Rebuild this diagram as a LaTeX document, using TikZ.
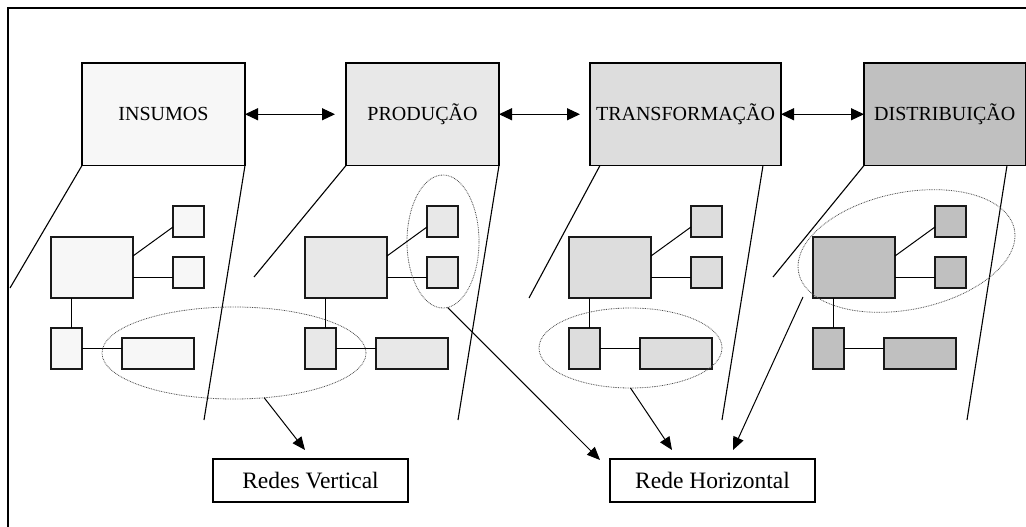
\documentclass[tikz,border=0pt]{standalone}
\usepackage{fontspec}
\setmainfont{Liberation Serif}
\usetikzlibrary{arrows.meta,calc,shapes.geometric}
\definecolor{cA}{HTML}{F7F7F7}
\definecolor{cB}{HTML}{E8E8E8}
\definecolor{cC}{HTML}{DDDDDD}
\definecolor{cD}{HTML}{C0C0C0}
\begin{document}
\begin{tikzpicture}[x=1pt,y=-1pt,
  hdr/.style={draw=black, line width=1.2pt, minimum height=102.5, inner sep=0pt, outer sep=0pt, font=\fontsize{20}{24}\selectfont},
  sub/.style={draw=black!90, line width=1.2pt, inner sep=0pt, outer sep=0pt},
  lbl/.style={draw=black, line width=1.2pt, minimum height=43, inner sep=0pt, outer sep=0pt, font=\fontsize{23.5}{28}\selectfont},
  link/.style={line width=1pt},
  fun/.style={line width=1.1pt},
  arr/.style={line width=1pt, -{Triangle[length=13pt,width=11pt]}},
  dbl/.style={line width=1.1pt, {Triangle[length=13pt,width=12pt]}-{Triangle[length=13pt,width=12pt]}},
  grp/.style={ellipse, draw=black!70, line width=0.8pt, dash pattern=on 0.8pt off 0.9pt, inner sep=0pt, outer sep=0pt}
]
\useasboundingbox (0,0) rectangle (1026,527);
% frame
\draw[line width=1.5pt] (8,527) -- (8,8) -- (1026,8);

% header boxes
\node[hdr, fill=cA, minimum width=163] (ins) at (163.5,114.25) {INSUMOS};
\node[hdr, fill=cB, minimum width=153] (pro) at (422.5,114.25) {PRODUÇÃO};
\node[hdr, fill=cC, minimum width=191] (tra) at (685.5,114.25) {TRANSFORMAÇÃO};
\node[hdr, fill=cD, minimum width=161.5] (dis) at (944.75,114.25) {DISTRIBUIÇÃO};

% double arrows
\draw[dbl, shorten >=11pt] (ins.east) -- (pro.west);
\draw[dbl, shorten >=10pt] (pro.east) -- (tra.west);
\draw[dbl] (tra.east) -- (dis.west);

% funnel lines
\coordinate (f1) at (10,288);
\coordinate (f2) at (204,420);
\coordinate (f3) at (254,277);
\coordinate (f4) at (458,420);
\coordinate (f5) at (529,298);
\coordinate (f6) at (722,420);
\coordinate (f7) at (773,277);
\coordinate (f8) at (967,420);
\draw[fun] (ins.south west) -- (f1);
\draw[fun] (ins.south east) -- (f2);
\draw[fun] (pro.south west) -- (f3);
\draw[fun] (pro.south east) -- (f4);
\draw[fun] ($(tra.south west)+(10,0)$) -- (f5);
\draw[fun] ($(tra.south east)+(-18,0)$) -- (f6);
\draw[fun] (dis.south west) -- (f7);
\draw[fun] ($(dis.south west)+(143,0)$) -- (f8);

% small networks
\foreach \i/\dx/\col in {1/0/cA,2/254/cB,3/518/cC,4/762/cD}{
  \node[sub, fill=\col, minimum width=82, minimum height=61] (b\i) at ({\dx+92},267.5) {};
  \node[sub, fill=\col, minimum width=31, minimum height=31] (s\i) at ({\dx+188.5},221.5) {};
  \node[sub, fill=\col, minimum width=31, minimum height=31] (t\i) at ({\dx+188.5},272.5) {};
  \node[sub, fill=\col, minimum width=31, minimum height=41] (m\i) at ({\dx+66.5},348.5) {};
  \node[sub, fill=\col, minimum width=72, minimum height=31] (w\i) at ({\dx+158},353.5) {};
  \path ($(t\i.west)+(0,4.5)$) coordinate (q\i);
  \path ($(m\i.north)+(5,0)$) coordinate (v\i);
  \draw[link] ($(b\i.east)+(0,-11.5)$) -- ($(s\i.west)+(0,5.5)$);
  \draw[link] (q\i) -- (q\i -| b\i.east);
  \draw[link] (v\i) -- (v\i |- b\i.south);
  \draw[link] (m\i.east) -- (m\i.east -| w\i.west);
}

% groupings
\node[grp, minimum width=264, minimum height=92] (ie) at (234,353) {};
\node[grp, minimum width=72, minimum height=133] (pe) at (443,241.5) {};
\node[grp, minimum width=183, minimum height=80] (te) at (630.5,348) {};
\node[grp, minimum width=220, minimum height=117, rotate=11.4] (de) at (906.5,251) {};

% labels
\node[lbl, minimum width=195] (rv) at (310.5,480.5) {Redes Vertical};
\node[lbl, minimum width=205] (rh) at (712.5,480.5) {Rede Horizontal};

% arrows to labels
\coordinate (a1) at (305,450);
\coordinate (a2) at (600,460);
\coordinate (a3) at (672,450);
\coordinate (a4s) at (803,297);
\coordinate (a4) at (733,450);
\draw[arr] (ie.-56) -- (a1);
\draw[arr] (pe.-86) -- (a2);
\draw[arr] (te.south) -- (a3);
\draw[arr] (a4s) -- (a4);
\end{tikzpicture}
\end{document}
